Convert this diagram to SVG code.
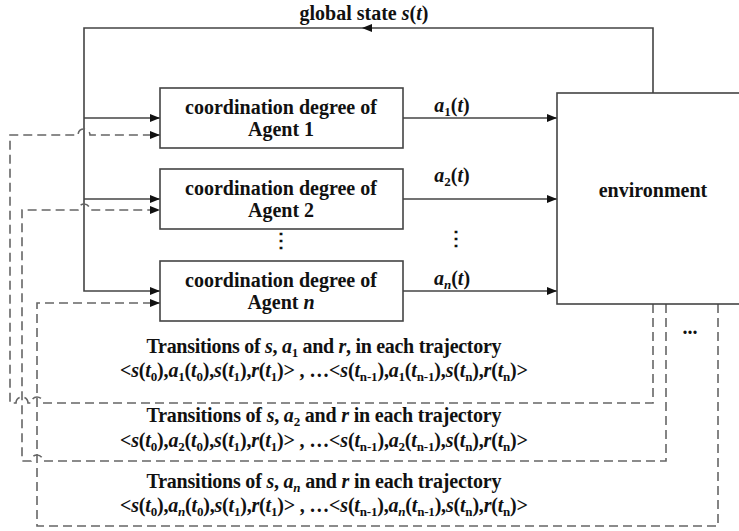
<svg xmlns="http://www.w3.org/2000/svg" width="739" height="531" viewBox="0 0 739 531">
<defs>
<style>
.t{fill:#111;text-anchor:middle}
.i{font-style:italic}
.sb{font-size:13px}
.solid{fill:none;stroke:#444;stroke-width:1.6}
.dash{fill:none;stroke:#666;stroke-width:1.6;stroke-dasharray:9 5}
.box{fill:#fff;stroke:#444;stroke-width:1.6}
</style>
<marker id="ah" viewBox="0 0 10 8" refX="10" refY="4" markerWidth="10" markerHeight="8" markerUnits="userSpaceOnUse" orient="auto">
<path d="M0,0 L10,4 L0,8 Z" fill="#111"/>
</marker>
</defs>
<rect width="739" height="531" fill="#fff"/>

<g id="connectors">
<path class="solid" d="M653,93 V28 H84 V291 H160" marker-end="url(#ah)"/>
<path d="M362,28 L372,24 L372,32 Z" fill="#111"/>
<path class="solid" d="M84,118 H160" marker-end="url(#ah)"/>
<path class="solid" d="M84,199 H160" marker-end="url(#ah)"/>
<path class="solid" d="M403,118 H557" marker-end="url(#ah)"/>
<path class="solid" d="M403,199 H557" marker-end="url(#ah)"/>
<path class="solid" d="M403,291 H557" marker-end="url(#ah)"/>
<path class="dash" d="M653,304 V403 H43 A6,6 0 0 0 31,403 H28 A6,6 0 0 0 16,403 H10 V135 H78 A6,6 0 0 1 90,135 H160" marker-end="url(#ah)"/>
<path class="dash" d="M666,304 V461 H43 A6,6 0 0 0 31,461 H22 V210 H78 A6,6 0 0 1 90,210 H160" marker-end="url(#ah)"/>
<path class="dash" d="M718,304 V526 H37 V303 H160" marker-end="url(#ah)"/>
</g>

<g id="agent1">
<rect class="box" x="160" y="88" width="243" height="60"/>
<text class="t" font-family="Liberation Serif" font-weight="bold" font-size="20" x="281" y="114">coordination degree of</text>
<text class="t" font-family="Liberation Serif" font-weight="bold" font-size="20" x="281" y="136">Agent 1</text>
</g>
<g id="agent2">
<rect class="box" x="160" y="169" width="243" height="60"/>
<text class="t" font-family="Liberation Serif" font-weight="bold" font-size="20" x="281" y="195">coordination degree of</text>
<text class="t" font-family="Liberation Serif" font-weight="bold" font-size="20" x="281" y="217">Agent 2</text>
</g>
<g id="agentn">
<rect class="box" x="160" y="261" width="243" height="60"/>
<text class="t" font-family="Liberation Serif" font-weight="bold" font-size="20" x="281" y="287">coordination degree of</text>
<text class="t" font-family="Liberation Serif" font-weight="bold" font-size="20" x="281" y="309">Agent <tspan class="i">n</tspan></text>
</g>
<g id="environment">
<rect class="box" x="557" y="93" width="200" height="211"/>
<text class="t" font-family="Liberation Serif" font-weight="bold" font-size="20" x="653" y="197">environment</text>
</g>

<g id="labels">
<text class="t" font-family="Liberation Serif" font-weight="bold" font-size="20" x="364" y="20">global state <tspan class="i">s</tspan>(<tspan class="i">t</tspan>)</text>
<text class="t" font-family="Liberation Serif" font-weight="bold" font-size="20" x="452" y="112"><tspan class="i">a</tspan><tspan class="sb" dy="4">1</tspan><tspan dy="-4">(</tspan><tspan class="i">t</tspan>)</text>
<text class="t" font-family="Liberation Serif" font-weight="bold" font-size="20" x="452" y="182"><tspan class="i">a</tspan><tspan class="sb" dy="4">2</tspan><tspan dy="-4">(</tspan><tspan class="i">t</tspan>)</text>
<text class="t" font-family="Liberation Serif" font-weight="bold" font-size="20" x="452" y="285"><tspan class="i">a</tspan><tspan class="sb i" dy="4">n</tspan><tspan dy="-4">(</tspan><tspan class="i">t</tspan>)</text>
<text class="t" font-family="Liberation Serif" font-weight="bold" font-size="20" x="281" y="247">⋮</text>
<text class="t" font-family="Liberation Serif" font-weight="bold" font-size="20" x="456" y="245">⋮</text>
<text class="t" font-family="Liberation Serif" font-weight="bold" font-size="20" x="690" y="334">...</text>

<text class="t" font-family="Liberation Serif" font-weight="bold" font-size="20" x="324" y="353" textLength="355" lengthAdjust="spacing">Transitions of <tspan class="i">s</tspan>, <tspan class="i">a</tspan><tspan class="sb" dy="4">1</tspan><tspan dy="-4"> and </tspan><tspan class="i">r</tspan>, in each trajectory</text>
<text class="t" font-family="Liberation Serif" font-weight="bold" font-size="20" x="324" y="377" textLength="408" lengthAdjust="spacing">&lt;<tspan class="i">s</tspan>(<tspan class="i">t</tspan><tspan class="sb" dy="4">0</tspan><tspan dy="-4">),</tspan><tspan class="i">a</tspan><tspan class="sb" dy="4">1</tspan><tspan dy="-4">(</tspan><tspan class="i">t</tspan><tspan class="sb" dy="4">0</tspan><tspan dy="-4">),</tspan><tspan class="i">s</tspan>(<tspan class="i">t</tspan><tspan class="sb" dy="4">1</tspan><tspan dy="-4">),</tspan><tspan class="i">r</tspan>(<tspan class="i">t</tspan><tspan class="sb" dy="4">1</tspan><tspan dy="-4">)&gt; , …&lt;</tspan><tspan class="i">s</tspan>(<tspan class="i">t</tspan><tspan class="sb" dy="4">n-1</tspan><tspan dy="-4">),</tspan><tspan class="i">a</tspan><tspan class="sb" dy="4">1</tspan><tspan dy="-4">(</tspan><tspan class="i">t</tspan><tspan class="sb" dy="4">n-1</tspan><tspan dy="-4">),</tspan><tspan class="i">s</tspan>(<tspan class="i">t</tspan><tspan class="sb" dy="4">n</tspan><tspan dy="-4">),</tspan><tspan class="i">r</tspan>(<tspan class="i">t</tspan><tspan class="sb" dy="4">n</tspan><tspan dy="-4">)&gt;</tspan></text>

<text class="t" font-family="Liberation Serif" font-weight="bold" font-size="20" x="324" y="422" textLength="355" lengthAdjust="spacing">Transitions of <tspan class="i">s</tspan>, <tspan class="i">a</tspan><tspan class="sb" dy="4">2</tspan><tspan dy="-4"> and </tspan><tspan class="i">r</tspan> in each trajectory</text>
<text class="t" font-family="Liberation Serif" font-weight="bold" font-size="20" x="324" y="447" textLength="408" lengthAdjust="spacing">&lt;<tspan class="i">s</tspan>(<tspan class="i">t</tspan><tspan class="sb" dy="4">0</tspan><tspan dy="-4">),</tspan><tspan class="i">a</tspan><tspan class="sb" dy="4">2</tspan><tspan dy="-4">(</tspan><tspan class="i">t</tspan><tspan class="sb" dy="4">0</tspan><tspan dy="-4">),</tspan><tspan class="i">s</tspan>(<tspan class="i">t</tspan><tspan class="sb" dy="4">1</tspan><tspan dy="-4">),</tspan><tspan class="i">r</tspan>(<tspan class="i">t</tspan><tspan class="sb" dy="4">1</tspan><tspan dy="-4">)&gt; , …&lt;</tspan><tspan class="i">s</tspan>(<tspan class="i">t</tspan><tspan class="sb" dy="4">n-1</tspan><tspan dy="-4">),</tspan><tspan class="i">a</tspan><tspan class="sb" dy="4">2</tspan><tspan dy="-4">(</tspan><tspan class="i">t</tspan><tspan class="sb" dy="4">n-1</tspan><tspan dy="-4">),</tspan><tspan class="i">s</tspan>(<tspan class="i">t</tspan><tspan class="sb" dy="4">n</tspan><tspan dy="-4">),</tspan><tspan class="i">r</tspan>(<tspan class="i">t</tspan><tspan class="sb" dy="4">n</tspan><tspan dy="-4">)&gt;</tspan></text>

<text class="t" font-family="Liberation Serif" font-weight="bold" font-size="20" x="324" y="488" textLength="355" lengthAdjust="spacing">Transitions of <tspan class="i">s</tspan>, <tspan class="i">a</tspan><tspan class="sb i" dy="4">n</tspan><tspan dy="-4"> and </tspan><tspan class="i">r</tspan> in each trajectory</text>
<text class="t" font-family="Liberation Serif" font-weight="bold" font-size="20" x="324" y="512" textLength="408" lengthAdjust="spacing">&lt;<tspan class="i">s</tspan>(<tspan class="i">t</tspan><tspan class="sb" dy="4">0</tspan><tspan dy="-4">),</tspan><tspan class="i">a</tspan><tspan class="sb i" dy="4">n</tspan><tspan dy="-4">(</tspan><tspan class="i">t</tspan><tspan class="sb" dy="4">0</tspan><tspan dy="-4">),</tspan><tspan class="i">s</tspan>(<tspan class="i">t</tspan><tspan class="sb" dy="4">1</tspan><tspan dy="-4">),</tspan><tspan class="i">r</tspan>(<tspan class="i">t</tspan><tspan class="sb" dy="4">1</tspan><tspan dy="-4">)&gt; , …&lt;</tspan><tspan class="i">s</tspan>(<tspan class="i">t</tspan><tspan class="sb" dy="4">n-1</tspan><tspan dy="-4">),</tspan><tspan class="i">a</tspan><tspan class="sb i" dy="4">n</tspan><tspan dy="-4">(</tspan><tspan class="i">t</tspan><tspan class="sb" dy="4">n-1</tspan><tspan dy="-4">),</tspan><tspan class="i">s</tspan>(<tspan class="i">t</tspan><tspan class="sb" dy="4">n</tspan><tspan dy="-4">),</tspan><tspan class="i">r</tspan>(<tspan class="i">t</tspan><tspan class="sb" dy="4">n</tspan><tspan dy="-4">)&gt;</tspan></text>
</g>
</svg>
